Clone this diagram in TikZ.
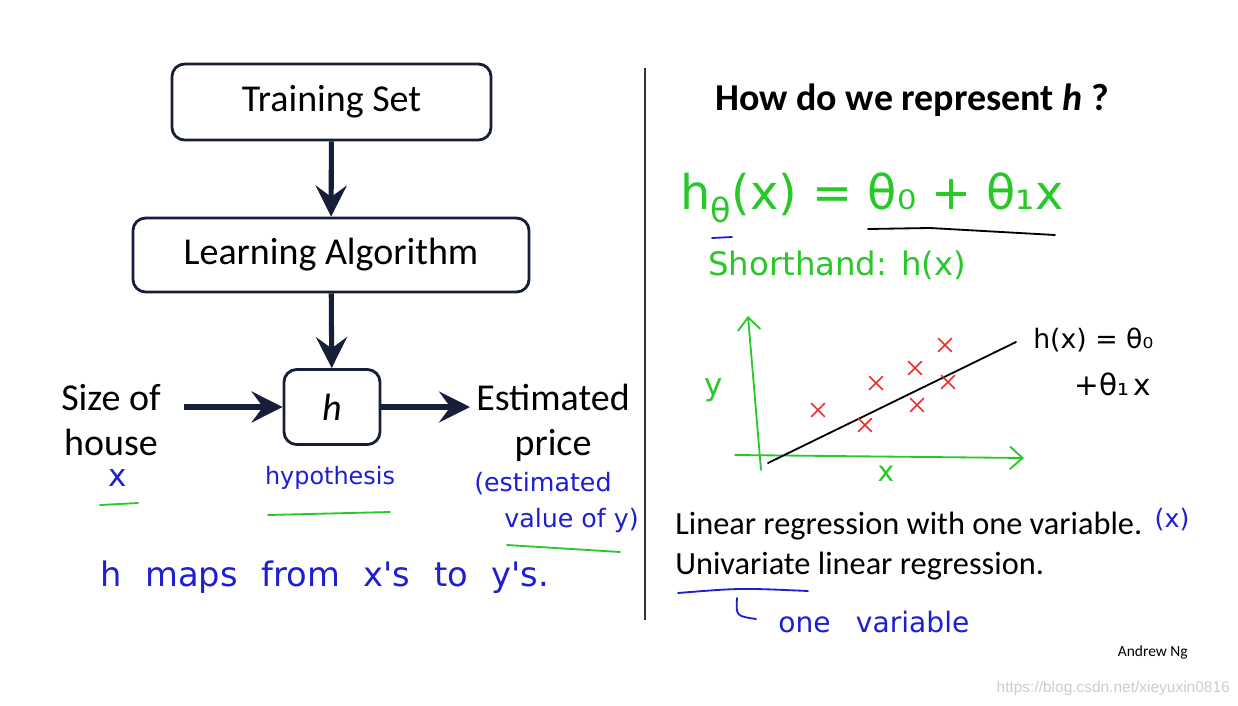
\documentclass[tikz,border=0pt]{standalone}
\usepackage{fontspec}
\setmainfont{Carlito}
\newfontfamily\handfont{DejaVu Sans}
\newfontfamily\wmfont{Liberation Sans}
\usetikzlibrary{arrows.meta, shapes.misc}
\definecolor{navy}{RGB}{22,30,58}
\definecolor{inkblue}{RGB}{30,30,210}
\definecolor{inkgreen}{RGB}{40,200,40}
\definecolor{inkred}{RGB}{235,45,45}
\definecolor{wmgray}{RGB}{205,205,205}

\tikzset{
  flowbox/.style={draw=navy, line width=2pt, rounded corners=9pt, fill=white,
                  font=\fontsize{27}{32}\selectfont, inner sep=0pt},
  flowarrow/.style={navy, line width=3.6pt, -{Stealth[length=22pt,width=22pt,inset=8pt]}},
  slidetext/.style={font=\fontsize{#1}{\fpeval{1.2*#1}}\selectfont, inner sep=0pt, align=center},
  hand/.style={font=\handfont\fontsize{#1}{\fpeval{1.1*#1}}\selectfont, inner sep=0pt},
  pen/.style={line width=1.3pt, line cap=round},
  datapt/.style={cross out, draw=inkred, line width=1.1pt, minimum size=0.3cm, inner sep=0pt}
}

\begin{document}
\begin{tikzpicture}[x=0.025cm, y=-0.025cm]
  \useasboundingbox[fill=white] (0,0) rectangle (1238,705);

  % left: the learning pipeline
  \node[flowbox, minimum width=7.975cm, minimum height=1.9cm] (train) at (331.5,102) {Training Set};
  \node[flowbox, minimum width=9.9cm, minimum height=1.85cm] (learn) at (331,255) {Learning Algorithm};
  \node[flowbox, minimum width=2.4cm, minimum height=1.875cm] (hyp) at (332,407) {\itshape h};
  \node[slidetext=27] (size) at (111,420) {Size of\\house};
  \node[slidetext=27] (price) at (553,423) {Estimated\\price};

  \draw[flowarrow] ([xshift=0.575cm]size.east |- hyp) -- (hyp);
  \draw[flowarrow] (train) -- (learn);
  \draw[flowarrow] (learn) -- (hyp);
  \draw[flowarrow] (hyp) -- ([xshift=-0.15cm]price.west |- hyp);

  % handwritten notes, left
  \node[hand=22, text=inkblue] (xin) at (118,478) {x};
  \draw[pen, inkgreen] (100,505) -- (138,503);
  \node[hand=17, text=inkblue] (hypo) at (330,478) {hypothesis};
  \draw[pen, inkgreen] (268,515) -- (390,512);
  \node[hand=18, text=inkblue, anchor=west] (est) at (474,484) {(estimated};
  \node[hand=18, text=inkblue, anchor=west] (valy) at (504,521) {value of y)};
  \draw[pen, inkgreen] (507,545) -- (620,552);
  \node[hand=24, text=inkblue, anchor=west] (maps) at (100,577)
    {h\hspace{0.7em}maps\hspace{0.7em}from\hspace{0.7em}x's\hspace{0.7em}to\hspace{0.7em}y's.};

  % divider
  \draw[line width=1.5pt, black!80] (645,68) -- (645,620);

  % right side
  \node[slidetext=27, font=\bfseries\fontsize{27}{32}\selectfont] (title) at (912,100) {How do we represent \textit{h} ?};
  \node[hand=34, text=inkgreen, anchor=west] (model) at (680,198) {h\textsubscript{θ}(x) = θ₀ + θ₁x};
  \draw[pen, inkblue] (712,238) -- (732,237);
  \draw[pen, black] (868,229) -- (930,228) -- (1055,235);
  \node[hand=23, text=inkgreen, anchor=west] (short) at (708,265) {Shorthand: h(x)};

  % the little plot
  \coordinate (ybot) at (761,470);
  \coordinate (ytop) at (748,316);
  \coordinate (xleft) at (735,455);
  \coordinate (xright) at (1024,458);
  \draw[pen, inkgreen, -{Straight Barb[length=9pt,width=16pt]}] (ybot) -- (ytop);
  \draw[pen, inkgreen, -{Straight Barb[length=9pt,width=16pt]}] (xleft) -- (xright);
  \node[hand=22, text=inkgreen] (ylab) at (714,390) {y};
  \node[hand=20, text=inkgreen] (xlab) at (886,474) {x};
  \coordinate (fitA) at (768,463);
  \coordinate (fitB) at (1016,342);
  \draw[pen, black] (fitA) -- (fitB);
  \foreach \px/\py [count=\i] in {818/410, 865/425, 876/383, 915/368, 917/405, 948/382, 945/345}
    \node[datapt] (pt\i) at (\px,\py) {};
  \node[hand=19, anchor=west] (fitlab) at (1033,340) {h(x) = θ₀};
  \node[hand=21, anchor=west] (fitlabb) at (1074,384) {+θ₁\,x};

  % bottom text
  \node[slidetext=23, anchor=west] (lin) at (675,526) {Linear regression with one variable.};
  \node[hand=18, text=inkblue] (xvar) at (1172,520) {(x)};
  \node[slidetext=23, anchor=west] (uni) at (675,566) {Univariate linear regression.};
  \draw[pen, inkblue] (678,593) .. controls (740,588) .. (808,591);
  \draw[pen, inkblue] (737,598) .. controls (736,616) .. (756,619);
  \node[hand=20, text=inkblue, anchor=west] (onevar) at (778,622) {one\hspace{0.9em}variable};

  \node[slidetext=11, anchor=east] (author) at (1188,652) {Andrew Ng};
  \node[font=\wmfont\fontsize{11}{13}\selectfont, text=wmgray, anchor=east, inner sep=0pt] (wm) at (1230,688) {https://blog.csdn.net/xieyuxin0816};
\end{tikzpicture}
\end{document}
